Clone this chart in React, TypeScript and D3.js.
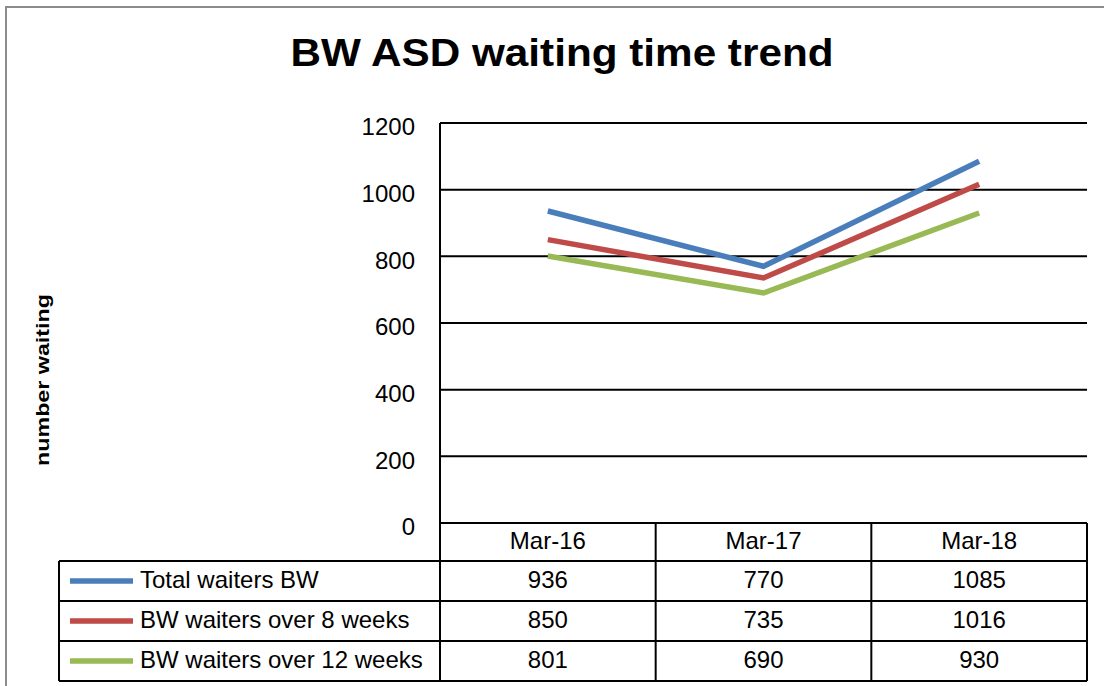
import React from "react"
import * as d3 from "d3"

const categories = ["Mar-16", "Mar-17", "Mar-18"]
const seriesNames = ["Total waiters BW", "BW waiters over 8 weeks", "BW waiters over 12 weeks"]
const totalWaiters = [936, 770, 1085]
const over8Weeks = [850, 735, 1016]
const over12Weeks = [801, 690, 930]
const yTicks = [0, 200, 400, 600, 800, 1000, 1200]
const colors = ["#4A7EBB", "#BE4B48", "#98B954"]

const W = 1104
const H = 686
const FONT = "'Liberation Sans', Arial, sans-serif"

const App = () => {
  const seriesValues = [totalWaiters, over8Weeks, over12Weeks]

  // plot area
  const left = 440
  const right = 1087
  const top = 123
  const bottom = 523
  const tableLeft = 59
  const headerBottom = 561
  const tableBottom = 681

  const x = d3.scaleBand<string>().domain(categories).range([left, right])
  const y = d3.scaleLinear().domain([0, 1200]).range([bottom, top])
  const row = d3.scaleBand<string>().domain(seriesNames).range([headerBottom, tableBottom])

  const line = d3.line<number>()
    .x((d, i) => (x(categories[i]) as number) + x.bandwidth() / 2)
    .y(d => y(d))

  return (
    <svg width={W} height={H} style={{ position: "absolute", left: 0, top: 0, background: "#fff" }} fontFamily={FONT}>
      {/* outer chart border */}
      <rect x={6} y={7} width={W + 10} height={H + 10} fill="none" stroke="#8c8c8c" strokeWidth={2} />

      <text x={562} y={66} textAnchor="middle" fontSize={39} fontWeight="bold" textLength={543} lengthAdjust="spacingAndGlyphs">
        BW ASD waiting time trend
      </text>

      <text transform={`translate(49, 380) rotate(-90)`} textAnchor="middle" fontSize={19} fontWeight="bold" textLength={172} lengthAdjust="spacingAndGlyphs">
        number waiting
      </text>

      {/* gridlines */}
      {yTicks.map(t => (
        <g key={t}>
          <line x1={left} x2={right} y1={y(t)} y2={y(t)} stroke="#000" strokeWidth={2} />
          <text x={415} y={y(t) + 6} textAnchor="end" dominantBaseline="middle" fontSize={24}>{t}</text>
        </g>
      ))}

      {/* series lines */}
      {seriesValues.map((vals, i) => (
        <path key={i} d={line(vals) as string} fill="none" stroke={colors[i]} strokeWidth={5.5} />
      ))}

      {/* data table */}
      <g stroke="#000" strokeWidth={2}>
        <line x1={left} x2={left} y1={top} y2={tableBottom} />
        <line x1={tableLeft} x2={right} y1={headerBottom} y2={headerBottom} />
        <line x1={tableLeft} x2={right} y1={tableBottom} y2={tableBottom} />
        <line x1={tableLeft} x2={tableLeft} y1={headerBottom} y2={tableBottom} />
        <line x1={right} x2={right} y1={bottom} y2={tableBottom} />
        {categories.slice(1).map(c => (
          <line key={c} x1={x(c)} x2={x(c)} y1={bottom} y2={tableBottom} />
        ))}
        {seriesNames.slice(1).map(s => (
          <line key={s} x1={tableLeft} x2={right} y1={row(s)} y2={row(s)} />
        ))}
      </g>

      {categories.map(c => (
        <text key={c} x={(x(c) as number) + x.bandwidth() / 2} y={(bottom + headerBottom) / 2 + 1} textAnchor="middle" dominantBaseline="middle" fontSize={24}>
          {c}
        </text>
      ))}

      {seriesNames.map((s, i) => {
        const cy = (row(s) as number) + row.bandwidth() / 2
        return (
          <g key={s}>
            <line x1={70} x2={133} y1={cy} y2={cy} stroke={colors[i]} strokeWidth={5.5} />
            <text x={140} y={cy + 1} dominantBaseline="middle" fontSize={24}>{s}</text>
            {seriesValues[i].map((v, j) => (
              <text key={j} x={(x(categories[j]) as number) + x.bandwidth() / 2} y={cy + 1} textAnchor="middle" dominantBaseline="middle" fontSize={24}>
                {v}
              </text>
            ))}
          </g>
        )
      })}
    </svg>
  )
}

export default App
